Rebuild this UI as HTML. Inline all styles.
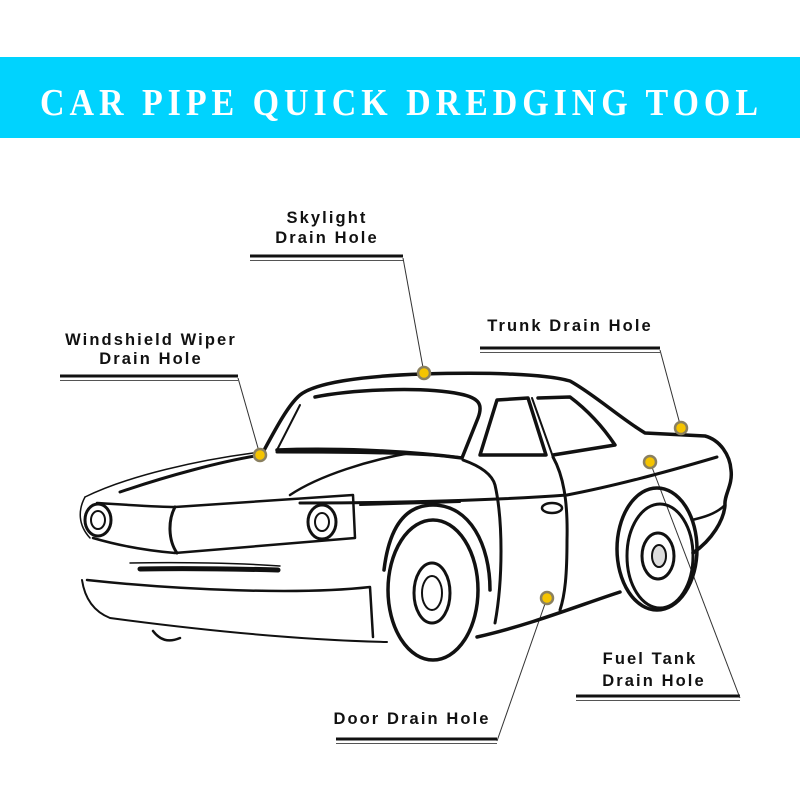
<!DOCTYPE html>
<html><head><meta charset="utf-8"><style>
html,body{margin:0;padding:0;background:#fff;width:800px;height:800px;overflow:hidden}
</style></head><body>
<svg width="800" height="800" viewBox="0 0 800 800" xmlns="http://www.w3.org/2000/svg">
<rect x="0" y="0" width="800" height="800" fill="#fff"/>
<rect x="0" y="57" width="800" height="81" fill="#00D3FE"/>
<g transform="translate(0,115) scale(1,1.12)">
<text x="40" y="0" textLength="718" lengthAdjust="spacing" font-family="Liberation Serif, serif" font-weight="bold" font-size="34" fill="#fff">CAR PIPE QUICK DREDGING TOOL</text>
</g>

<g font-family="Liberation Sans, sans-serif" font-weight="bold" font-size="16.5" fill="#111" letter-spacing="2.1" text-anchor="middle">
<text x="327" y="223">Skylight</text>
<text x="327" y="243">Drain Hole</text>
<text x="151" y="345">Windshield Wiper</text>
<text x="151" y="364">Drain Hole</text>
<text x="570" y="331">Trunk Drain Hole</text>
<text x="650" y="664">Fuel Tank</text>
<text x="654" y="686">Drain Hole</text>
<text x="412" y="724">Door Drain Hole</text>
</g>

<g stroke="#111" fill="none">
<g stroke-width="3"><line x1="250" y1="256" x2="403" y2="256"/><line x1="60" y1="376" x2="238" y2="376"/><line x1="480" y1="348" x2="660" y2="348"/><line x1="576" y1="696" x2="740" y2="696"/><line x1="336" y1="739" x2="497" y2="739"/></g>
<g stroke-width="1" stroke="#555"><line x1="250" y1="260.5" x2="403" y2="260.5"/><line x1="60" y1="380.5" x2="238" y2="380.5"/><line x1="480" y1="352.5" x2="660" y2="352.5"/><line x1="576" y1="700.5" x2="740" y2="700.5"/><line x1="336" y1="743.5" x2="497" y2="743.5"/></g>
<g stroke-width="1" stroke="#333">
<line x1="403" y1="258" x2="424" y2="373"/>
<line x1="238" y1="378" x2="260" y2="455"/>
<line x1="660" y1="350" x2="681" y2="428"/>
<line x1="740" y1="698" x2="650" y2="462"/>
<line x1="497" y1="741" x2="547" y2="598"/>
</g>

<g stroke-linecap="round" stroke-linejoin="round">
<path d="M262,454 C275,430 288,405 300,395 C315,383 360,376 423,374 C490,372 545,374 570,381 C595,395 620,418 645,433 L705,436 C720,440 730,455 731,470 C733,485 724,495 725,505 C724,520 712,540 693,553" stroke-width="3.5"/>
<path d="M725,505 C715,515 700,518 692,520" stroke-width="2.5"/>
<path d="M277,450 C330,448 400,450 462,458 L478,418 C483,405 480,398 460,394 C420,386 350,390 315,397" stroke-width="3.5"/>
<path d="M277,450 L300,405" stroke-width="2"/>
<path d="M480,455 L497,400 L528,398 L546,455 Z" stroke-width="3.5"/>
<path d="M538,398 L570,397 C590,412 605,430 615,445 L553,455" stroke-width="3.5"/>
<line x1="532" y1="398" x2="553" y2="457" stroke-width="2"/>
<path d="M85,497 C130,475 200,460 253,453" stroke-width="1.5"/>
<path d="M120,492 C170,475 220,462 255,456" stroke-width="3"/>
<path d="M290,495 C320,475 370,460 410,453" stroke-width="2.5"/>
<path d="M277,452 C360,452 430,453 462,458" stroke-width="3"/>
<path d="M300,503 C400,503 500,500 567,495 C620,485 680,468 717,457" stroke-width="3"/>
<path d="M360,505 L460,502" stroke-width="2"/>
<path d="M463,460 C480,466 492,474 495,485 C503,520 503,580 495,623" stroke-width="3"/>
<path d="M553,457 C563,475 568,500 567,540 C567,575 565,595 560,610" stroke-width="3"/>
<ellipse cx="552" cy="508" rx="10" ry="5" stroke-width="2.5"/>
<path d="M477,637 C530,625 580,605 620,592" stroke-width="3.5"/>
<path d="M97,503 C130,505 160,507 175,507 L353,495 L355,538 L175,553 C140,550 110,543 93,538" stroke-width="2.5"/>
<path d="M175,507 C168,520 168,540 177,553" stroke-width="3"/>
<path d="M85,497 C78,510 78,525 90,538" stroke-width="1.5"/>
<ellipse cx="98" cy="520" rx="13" ry="16" stroke-width="3"/>
<ellipse cx="98" cy="520" rx="7" ry="9" stroke-width="2"/>
<ellipse cx="322" cy="522" rx="14" ry="17" stroke-width="3"/>
<ellipse cx="322" cy="522" rx="7" ry="9" stroke-width="2"/>
<path d="M130,563 C180,562 240,563 280,566" stroke-width="1.5"/>
<path d="M140,569 C190,568 240,569 278,570" stroke-width="5"/>
<path d="M87,580 C180,590 300,595 370,587 L373,637" stroke-width="2.5"/>
<path d="M82,580 C85,600 95,612 110,618 C200,630 300,640 387,642" stroke-width="2"/>
<path d="M153,631 C160,640 168,643 180,638" stroke-width="2.5"/>
<path d="M384,570 C390,520 410,505 433,505 C470,505 490,545 490,590" stroke-width="3.5"/>
<ellipse cx="433" cy="590" rx="45" ry="70" stroke-width="3.5"/>
<ellipse cx="432" cy="593" rx="18" ry="30" stroke-width="3"/>
<ellipse cx="432" cy="593" rx="10" ry="17" stroke-width="2"/>
<ellipse cx="657" cy="549" rx="40" ry="61" stroke-width="3.5"/>
<ellipse cx="660" cy="556" rx="33" ry="52" stroke-width="3"/>
<ellipse cx="658" cy="556" rx="16" ry="23" stroke-width="3"/>
<ellipse cx="659" cy="556" rx="7" ry="11" stroke-width="2" fill="#ddd"/>
</g>
</g>

<g fill="#F5C400" stroke="#8a8060" stroke-width="2.5">
<circle cx="424" cy="373" r="6"/>
<circle cx="260" cy="455" r="6"/>
<circle cx="681" cy="428" r="6"/>
<circle cx="650" cy="462" r="6"/>
<circle cx="547" cy="598" r="6"/>
</g>
</svg>
</body></html>
